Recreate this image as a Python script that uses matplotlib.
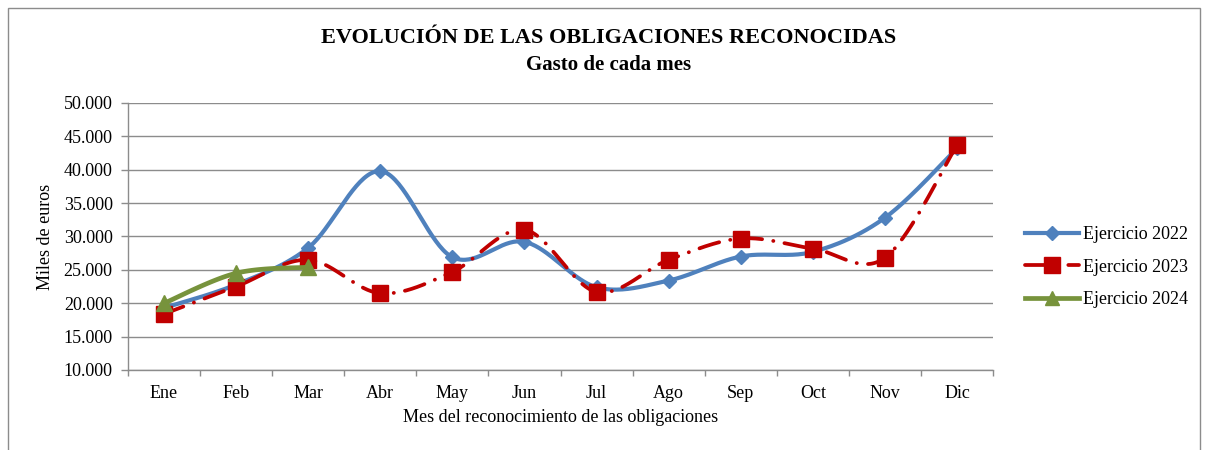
import numpy as np
import matplotlib
matplotlib.use("Agg")
import matplotlib.pyplot as plt
from matplotlib.lines import Line2D
from matplotlib.patches import Rectangle
from matplotlib.ticker import FuncFormatter, FixedLocator

plt.rcParams['font.family'] = ['Liberation Serif', 'DejaVu Serif']

months = ["Ene", "Feb", "Mar", "Abr", "May", "Jun", "Jul", "Ago", "Sep", "Oct", "Nov", "Dic"]
ej2022 = [19300, 22800, 28300, 39800, 26900, 29200, 22400, 23400, 27000, 27700, 32800, 43200]
ej2023 = [18400, 22500, 26500, 21500, 24700, 31000, 21700, 26500, 29700, 28200, 26800, 43700]
ej2024 = [20000, 24500, 25400]
series_names = ["Ejercicio 2022", "Ejercicio 2023", "Ejercicio 2024"]
yticks = [10000, 15000, 20000, 25000, 30000, 35000, 40000, 45000, 50000]

C_BLUE = "#4F81BD"
C_RED = "#C00000"
C_GREEN = "#77933C"
FS = 13


def smooth(xs, ys, n=40):
    """Excel-like smoothed curve (Catmull-Rom as cubic Bezier)."""
    P = np.column_stack([xs, ys]).astype(float)
    m = len(P)
    if m < 2:
        return P[:, 0], P[:, 1]
    ext = np.vstack([P[0], P, P[-1]])
    out = []
    t = np.linspace(0, 1, n)[:, None]
    for i in range(m - 1):
        p0 = ext[i + 1]
        p3 = ext[i + 2]
        c1 = p0 + (ext[i + 2] - ext[i]) / 6.0
        c2 = p3 - (ext[i + 3] - ext[i + 1]) / 6.0
        seg = ((1 - t) ** 3) * p0 + 3 * ((1 - t) ** 2) * t * c1 + 3 * (1 - t) * t ** 2 * c2 + t ** 3 * p3
        out.append(seg if i == 0 else seg[1:])
    out = np.vstack(out)
    return out[:, 0], out[:, 1]


fig = plt.figure(figsize=(12.06, 4.5), dpi=100)
ax = fig.add_axes([128 / 1206, 1 - 370 / 450, (993 - 128) / 1206, (370 - 103) / 450])

x = np.arange(len(months))

# 2022
sx, sy = smooth(x, ej2022)
ax.plot(sx, sy, color=C_BLUE, lw=3.0, solid_capstyle='round', zorder=3)
ax.plot(x, ej2022, ls='none', marker='D', ms=7.5, color=C_BLUE, zorder=4)

# 2023
sx, sy = smooth(x, ej2023)
ax.plot(sx, sy, color=C_RED, lw=2.7, dashes=(5.5, 3.0, 0.05, 3.0), dash_capstyle='round', zorder=5)
ax.plot(x, ej2023, ls='none', marker='s', ms=11, color=C_RED, zorder=6)

# 2024
x24 = np.arange(len(ej2024))
sx, sy = smooth(x24, ej2024)
ax.plot(sx, sy, color=C_GREEN, lw=3.4, solid_capstyle='round', zorder=7)
ax.plot(x24, ej2024, ls='none', marker='^', ms=12, color=C_GREEN, zorder=8)

ax.set_xlim(-0.5, len(months) - 0.5)
ax.set_ylim(10000, 50000)
ax.set_yticks(yticks)
ax.yaxis.set_major_formatter(FuncFormatter(lambda v, p: f"{int(v):,}".replace(",", ".")))
ax.grid(axis='y', color='#8C8C8C', lw=1.0, zorder=0)
ax.set_axisbelow(True)

ax.xaxis.set_major_locator(FixedLocator(np.arange(-0.5, len(months), 1.0)))
ax.xaxis.set_minor_locator(FixedLocator(x))
ax.set_xticklabels([], minor=False)
ax.set_xticklabels(months, minor=True)
ax.tick_params(axis='x', which='major', length=4, width=1, color='#8C8C8C', direction='out')
ax.tick_params(axis='x', which='minor', length=0, pad=11, labelsize=FS)
ax.tick_params(axis='y', length=5, width=1, color='#8C8C8C', labelsize=FS, pad=6)

for s in ['top', 'right']:
    ax.spines[s].set_visible(False)
for s in ['left', 'bottom']:
    ax.spines[s].set_color('#8C8C8C')
    ax.spines[s].set_linewidth(1.0)

ax.set_xlabel("Mes del reconocimiento de las obligaciones", fontsize=FS, labelpad=5)
ax.set_ylabel("Miles de euros", fontsize=FS, labelpad=7)

fig.text(0.5 + 0.005, 1 - 38 / 450, "EVOLUCIÓN DE LAS OBLIGACIONES RECONOCIDAS",
         ha='center', va='center', fontsize=16, fontweight='bold')
fig.text(0.5 + 0.005, 1 - 65 / 450, "Gasto de cada mes",
         ha='center', va='center', fontsize=15, fontweight='bold')

handles = [
    Line2D([], [], color=C_BLUE, lw=3.0, marker='D', ms=7.5),
    Line2D([], [], color=C_RED, lw=2.7, dashes=(5.5, 3.0, 0.05, 3.0), dash_capstyle='round', marker='s', ms=11),
    Line2D([], [], color=C_GREEN, lw=3.4, marker='^', ms=10),
]
fig.legend(handles, series_names, loc='center left', bbox_to_anchor=(1009 / 1206, 1 - 267 / 450),
           frameon=False, fontsize=FS, handlelength=3.0, handletextpad=0.2, labelspacing=0.85)

fig.add_artist(Rectangle((8 / 1206, -0.01), (1200 - 8) / 1206, 1 - 8 / 450 + 0.01,
                         transform=fig.transFigure, fill=False, edgecolor='#8C8C8C', lw=1.0))

fig.savefig("out.png", dpi=100)
